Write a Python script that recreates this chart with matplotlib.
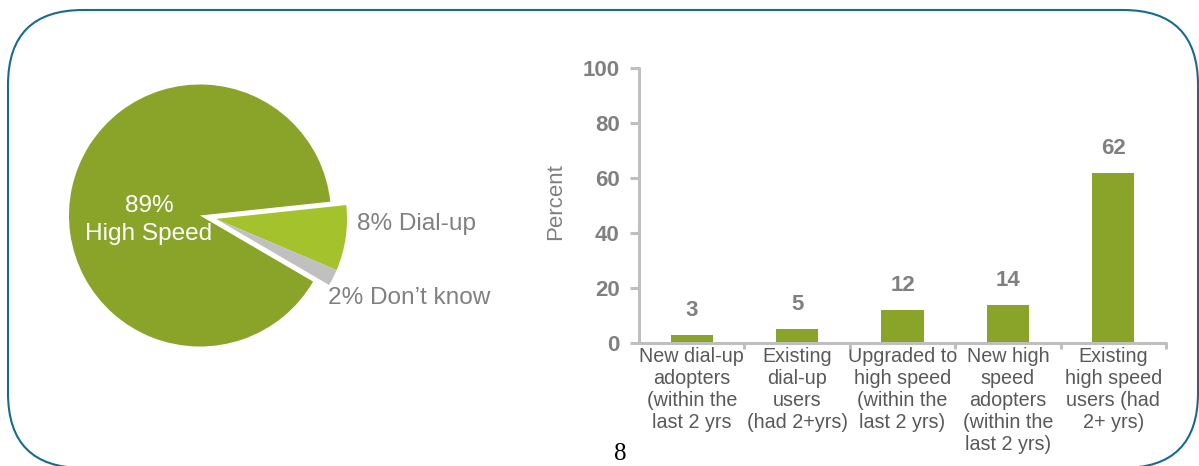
import numpy as np
import matplotlib
matplotlib.use("Agg")
import matplotlib.pyplot as plt
from matplotlib.patches import FancyBboxPatch
from matplotlib.transforms import IdentityTransform

plt.rcParams['font.family'] = ['Liberation Sans', 'DejaVu Sans']

# ---- data ----
pie_labels = ["89%\nHigh Speed", "8% Dial-up", "2% Don\u2019t know"]
pie_values = [89, 8, 2]
pie_colors = ["#89A428", "#A3C22B", "#C0C0C0"]

categories = [
    "New dial-up\nadopters\n(within the\nlast 2 yrs",
    "Existing\ndial-up\nusers\n(had 2+yrs)",
    "Upgraded to\nhigh speed\n(within the\nlast 2 yrs)",
    "New high\nspeed\nadopters\n(within the\nlast 2 yrs)",
    "Existing\nhigh speed\nusers (had\n2+ yrs)",
]
bar_values = [3, 5, 12, 14, 62]
y_ticks = [0, 20, 40, 60, 80, 100]

W, H, DPI = 1199, 466, 100
fig = plt.figure(figsize=(W / DPI, H / DPI), dpi=DPI)

def px_axes(left, top, width, height):
    """Axes placed by pixel box (origin top-left)."""
    return fig.add_axes([left / W, (H - top - height) / H, width / W, height / H])

GRAY_TXT = "#808080"
AXIS_GRAY = "#BFBFBF"

# ---- rounded frame ----
frame = FancyBboxPatch((8, -2), 1190, 458,
                       boxstyle="round,pad=0,rounding_size=75",
                       transform=IdentityTransform(), fill=False,
                       edgecolor="#156C8F", linewidth=1.5)
fig.patches.append(frame)

# ---- pie ----
r_px = 131
cx, cy = 200, 215.5
half = 150
axp = px_axes(cx - half, cy - half, 2 * half, 2 * half)
lim = half / r_px
wedges, _ = axp.pie(pie_values, colors=pie_colors, startangle=-30.3,
                    counterclock=False, radius=1,
                    wedgeprops=dict(linewidth=0))
# pull the two small slices out together
shift_dist, shift_ang = 0.125, np.deg2rad(-12)
for w in wedges[1:]:
    w.set_center((shift_dist * np.cos(shift_ang), shift_dist * np.sin(shift_ang)))
axp.set_xlim(-lim, lim)
axp.set_ylim(-lim, lim)
axp.set_aspect("equal")
axp.axis("off")

pie_fs = 17.6
axp.text(-0.39, -0.034, pie_labels[0], ha="center", va="center",
         color="white", fontsize=pie_fs, linespacing=1.32)
axp.text(1.198, -0.065, pie_labels[1], ha="left", va="center",
         color=GRAY_TXT, fontsize=pie_fs)
axp.text(0.977, -0.63, pie_labels[2], ha="left", va="center",
         color=GRAY_TXT, fontsize=pie_fs)

# ---- bar chart ----
axb = px_axes(639, 68, 527, 275)
x = np.arange(len(categories))
axb.bar(x, bar_values, width=0.4, color="#89A428")
axb.set_xlim(-0.5, len(categories) - 0.5)
axb.set_ylim(0, 100)

for s in ["top", "right"]:
    axb.spines[s].set_visible(False)
for s in ["left", "bottom"]:
    axb.spines[s].set_color(AXIS_GRAY)
    axb.spines[s].set_linewidth(2.2)
    axb.spines[s].set_capstyle("round")

axb.set_yticks(y_ticks)
axb.set_yticklabels([str(t) for t in y_ticks], fontsize=16, fontweight="bold",
                    color=GRAY_TXT)
axb.tick_params(axis="y", length=6.5, width=2.2, color=AXIS_GRAY, pad=7.5)

axb.set_xticks(x)
axb.set_xticklabels(categories, fontsize=14.2, color="#595959")
axb.tick_params(axis="x", which="major", length=0, pad=3)
axb.set_xticks(np.arange(len(categories)) + 0.5, minor=True)
axb.tick_params(axis="x", which="minor", length=4.5, width=2.2, color=AXIS_GRAY)

for xi, v in zip(x, bar_values):
    axb.annotate(str(v), (xi, v), xytext=(0, 17.5), textcoords="offset points",
                 ha="center", va="center", fontsize=16, fontweight="bold",
                 color=GRAY_TXT)

axb.set_ylabel("Percent", fontsize=16, color=GRAY_TXT)
axb.yaxis.set_label_coords(-0.1385, 0.513)

# ---- page number ----
fig.text(620 / W, 0.5 / H, "8", ha="center", va="bottom", fontsize=18,
         family=["Liberation Serif", "DejaVu Serif"], color="black")

fig.savefig("out.png", dpi=DPI)
